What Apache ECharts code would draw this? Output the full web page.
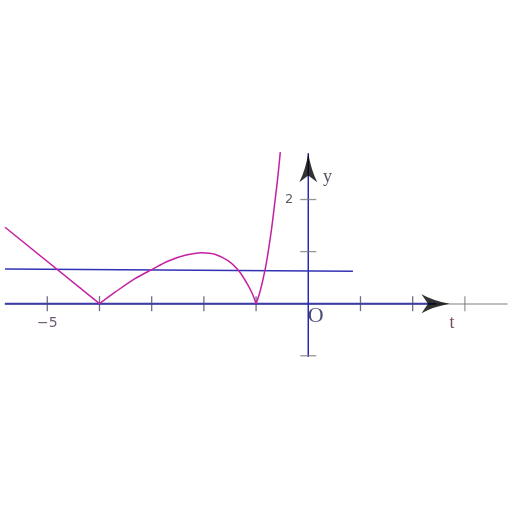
<!DOCTYPE html>
<html>
<head>
<meta charset="utf-8">
<script src="https://cdn.jsdelivr.net/npm/echarts@6/dist/echarts.min.js"></script>
<style>html,body{margin:0;padding:0;background:#fff}#c{width:512px;height:512px}</style>
</head>
<body>
<div id="c"></div>
<script>
// ---- data ----
var xTicks = [-5, -4, -3, -2, -1, 1, 2];
var xTicksFaint = [3];
var yTicks = [-1, 1, 2];
var xTickLabels = [-5];
var yTickLabels = [2];

// curve pieces (t, y)
var leftT = [-5.81, -4];
var leftY = [1.467, 0];
var humpT = [-4, -3.70, -3.32, -2.99, -2.68, -2.36, -2.04, -1.79, -1.53, -1.34, -1.18, -1.08, -1];
var humpY = [0, 0.22, 0.48, 0.66, 0.82, 0.93, 0.98, 0.95, 0.82, 0.64, 0.40, 0.21, 0];
var riseT = [-1, -0.925, -0.83, -0.766, -0.70, -0.638, -0.586, -0.536];
var riseY = [0, 0.23, 0.64, 1.01, 1.46, 1.97, 2.41, 2.91];

// nearly horizontal line
var hLineT = [-5.81, 0.856];
var hLineY = [0.668, 0.622];

// axis extents
var xAxisBlueT = [-5.81, 2.45];
var yAxisLineY = [-1.02, 2.89];
var xArrowT = 2.437;
var yArrowY = 2.61;

// annotation texts
var notes = [
  {text: 'y', t: 0.368, v: 2.423},
  {text: 't', t: 2.753, v: -0.38},
  {text: 'O', t: 0.144, v: -0.236}
];

function zip(a, b) { return a.map(function (v, i) { return [v, b[i]]; }); }

var arrowPath = 'path://M0,0 Q3,17 10,30 L0,23 L-10,30 Q-3,17 0,0 Z';
var serif = 'Liberation Serif';
var noteColors = {y: '#2c2c3c', t: '#5a1a2a', O: '#1e1e50'};
var noteSizes = {y: 18, t: 18, O: 22};

var chart = echarts.init(document.getElementById('c'), null, {renderer: 'canvas'});
chart.setOption({
  animation: false,
  backgroundColor: '#ffffff',
  grid: {left: 5, right: 5, top: 0, bottom: 0, containLabel: false, outerBoundsMode: 'none'},
  xAxis: {
    type: 'value', min: -5.81, max: 3.807,
    axisLine: {show: true, onZero: true, lineStyle: {color: '#a8a8a8', width: 1.5}},
    axisTick: {show: false},
    splitLine: {show: false},
    axisLabel: {show: false}
  },
  yAxis: {
    type: 'value', min: -4, max: 5.831,
    axisLine: {show: false, onZero: true},
    axisTick: {show: false},
    splitLine: {show: false},
    axisLabel: {show: false}
  },
  series: [
    {type: 'line', data: zip(xAxisBlueT, [0, 0]), symbol: 'none', z: 3,
     lineStyle: {color: '#3c3ca8', width: 2}},
    {type: 'line', data: zip([0, 0], yAxisLineY), symbol: 'none', z: 3,
     lineStyle: {color: '#2626b8', width: 1.5}},
    {type: 'scatter', data: xTicks.map(function (t) { return [t, 0]; }), symbol: 'rect',
     symbolSize: [1.3, 15], itemStyle: {color: '#4a4a6a'}, z: 4},
    {type: 'scatter', data: xTicksFaint.map(function (t) { return [t, 0]; }), symbol: 'rect',
     symbolSize: [1.3, 15], itemStyle: {color: '#808080'}, z: 4},
    {type: 'scatter', data: yTicks.map(function (v) { return [0, v]; }), symbol: 'rect',
     symbolSize: [16, 1.3], itemStyle: {color: '#7a7a7a'}, z: 4},
    // tick labels
    {type: 'scatter', symbolSize: 0, z: 9,
     data: xTickLabels.map(function (t) { return [t, 0]; }),
     label: {show: true, position: 'bottom', distance: 13, color: '#4a3050', fontSize: 14,
             fontFamily: 'DejaVu Sans',
             formatter: function (p) { var v = p.value[0]; return v < 0 ? '\u2212' + Math.abs(v) : String(v); }}},
    {type: 'scatter', symbolSize: 0, z: 9,
     data: yTickLabels.map(function (v) { return [0, v]; }),
     label: {show: true, position: 'left', distance: 15, color: '#333333', fontSize: 13,
             fontFamily: 'DejaVu Sans',
             formatter: function (p) { return String(p.value[1]); }}},
    {type: 'line', data: zip(hLineT, hLineY), symbol: 'none', z: 5,
     lineStyle: {color: '#3232b4', width: 1.5}},
    {type: 'line', data: zip(leftT, leftY), symbol: 'none', z: 6,
     lineStyle: {color: '#c420a2', width: 1.5}},
    {type: 'line', data: zip(humpT, humpY), symbol: 'none', smooth: 0.35, z: 6,
     lineStyle: {color: '#c420a2', width: 1.5}},
    {type: 'line', data: zip(riseT, riseY), symbol: 'none', smooth: 0.35, z: 6,
     lineStyle: {color: '#c420a2', width: 1.5}},
    {type: 'scatter', data: [[0, yArrowY]], symbol: arrowPath, symbolSize: [18, 29],
     itemStyle: {color: '#000000'}, z: 8},
    {type: 'scatter', data: [[xArrowT, 0]], symbol: arrowPath, symbolSize: [19, 28], symbolRotate: -90,
     itemStyle: {color: '#000000'}, z: 8},
    {type: 'scatter', symbolSize: 0, z: 9,
     data: notes.map(function (n) {
       return {value: [n.t, n.v], name: n.text,
               label: {color: noteColors[n.text], fontSize: noteSizes[n.text], fontFamily: serif}};
     }),
     label: {
       show: true, position: 'inside', align: 'center', verticalAlign: 'middle',
       formatter: function (p) { return p.name; }
     }
    }
  ]
});
</script>
</body>
</html>
